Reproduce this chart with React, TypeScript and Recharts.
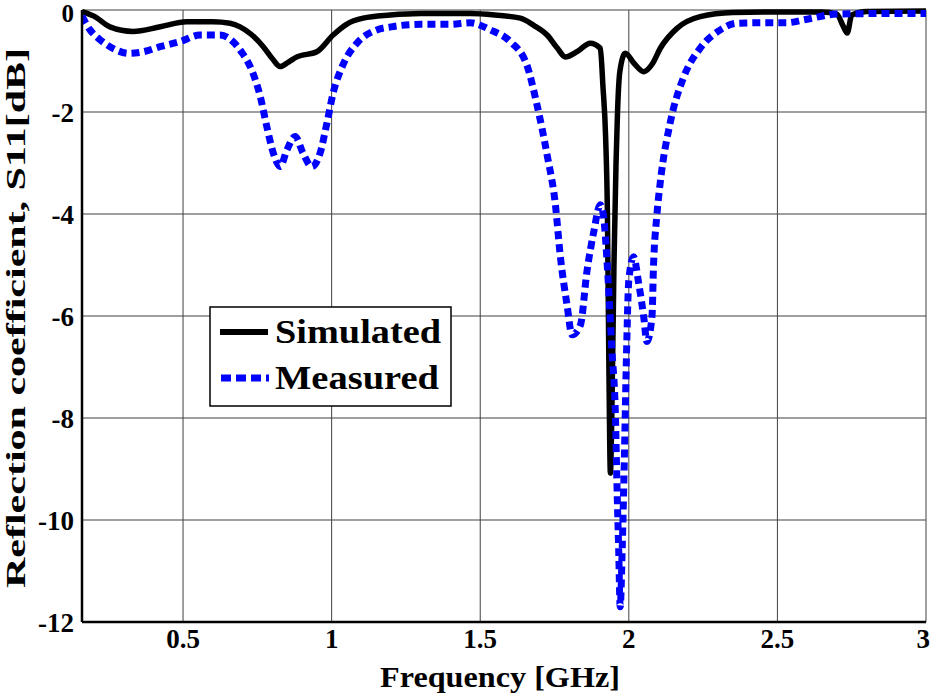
// S11 reflection coefficient: simulated vs measured
import { LineChart, Line, XAxis, YAxis, CartesianGrid, Label } from 'recharts';

const simFreq = [0.16, 0.2, 0.254, 0.332, 0.423, 0.512, 0.6, 0.658, 0.692, 0.73, 0.77, 0.8, 0.827, 0.855, 0.883, 0.95, 1.005, 1.05, 1.106, 1.197, 1.3, 1.466, 1.55, 1.635, 1.68, 1.725, 1.76, 1.786, 1.83, 1.87, 1.904, 1.913, 1.922, 1.928, 1.933, 1.938, 1.944, 1.95, 1.957, 1.962, 1.97, 1.988, 2.018, 2.05, 2.08, 2.106, 2.162, 2.24, 2.35, 2.5, 2.65, 2.7, 2.72, 2.735, 2.75, 2.8, 3.0];
const simS11 = [-0.03, -0.12, -0.33, -0.42, -0.33, -0.23, -0.23, -0.26, -0.33, -0.48, -0.72, -0.95, -1.11, -1.02, -0.92, -0.82, -0.49, -0.28, -0.16, -0.1, -0.07, -0.07, -0.1, -0.16, -0.3, -0.49, -0.75, -0.92, -0.8, -0.65, -0.75, -1.5, -2.5, -4, -7, -9.08, -7.5, -5, -3, -2, -1.2, -0.85, -1.05, -1.21, -1.05, -0.75, -0.36, -0.13, -0.05, -0.04, -0.04, -0.08, -0.3, -0.45, -0.1, -0.03, -0.02];

const measFreq = [0.16, 0.187, 0.22, 0.254, 0.32, 0.365, 0.423, 0.49, 0.557, 0.625, 0.668, 0.7, 0.726, 0.76, 0.782, 0.804, 0.827, 0.849, 0.877, 0.904, 0.933, 0.961, 0.984, 1.005, 1.04, 1.085, 1.152, 1.2, 1.3, 1.4, 1.466, 1.534, 1.601, 1.657, 1.691, 1.725, 1.753, 1.769, 1.792, 1.809, 1.837, 1.859, 1.882, 1.904, 1.915, 1.931, 1.943, 1.955, 1.96, 1.966, 1.971, 1.978, 1.985, 1.992, 2.0, 2.016, 2.033, 2.05, 2.061, 2.078, 2.083, 2.094, 2.106, 2.14, 2.183, 2.24, 2.308, 2.364, 2.45, 2.53, 2.6, 2.7, 2.85, 3.0];
const measS11 = [-0.12, -0.39, -0.58, -0.72, -0.85, -0.82, -0.72, -0.62, -0.49, -0.49, -0.62, -0.85, -1.11, -1.7, -2.29, -2.81, -3.07, -2.75, -2.48, -2.81, -3.07, -2.81, -2.22, -1.63, -1.05, -0.65, -0.39, -0.33, -0.28, -0.28, -0.25, -0.39, -0.62, -1.08, -1.86, -2.84, -3.82, -4.8, -5.78, -6.37, -6.18, -5.13, -4.35, -3.82, -4.05, -5.35, -6.67, -7.97, -9.28, -10.6, -11.7, -10.5, -8.8, -6.8, -5.3, -4.84, -5.35, -6.01, -6.5, -6.01, -5.03, -4.05, -3.37, -2.19, -1.34, -0.75, -0.39, -0.26, -0.25, -0.25, -0.18, -0.08, -0.07, -0.07];

const xTicks = [0.5, 1, 1.5, 2, 2.5, 3];
const yTicks = [0, -2, -4, -6, -8, -10, -12];

const simData = simFreq.map((f, i) => ({ f, s11: simS11[i] }));
const measData = measFreq.map((f, i) => ({ f, s11: measS11[i] }));

const FONT = '"Liberation Serif", "Times New Roman", serif';

function XTick({ x, y, payload }: any) {
  // last label sits on the right edge, keep it inside the picture
  const atEdge = x > 915;
  return (
    <text x={atEdge ? 930 : x} y={y + 26} textAnchor={atEdge ? 'end' : 'middle'} fontSize={27} fontWeight={700} fontFamily={FONT} fill="#000">
      {String(payload.value)}
    </text>
  );
}

function YTick({ x, y, payload }: any) {
  const atTop = y < 20;
  return (
    <text x={x - 8} y={atTop ? y + 12 : y + 10} textAnchor="end" fontSize={atTop ? 25 : 27} fontWeight={700} fontFamily={FONT} fill="#000">
      {String(payload.value)}
    </text>
  );
}

function LegendBox() {
  return (
    <svg width={243} height={101} style={{ position: 'absolute', left: 209, top: 306 }}>
      <rect x={1} y={1} width={241} height={99} fill="#fff" stroke="#000" strokeWidth={1.5} />
      <line x1={11} y1={26} x2={59} y2={26} stroke="#000" strokeWidth={6} />
      <text x={66} y={37} fontSize={33} fontWeight={700} fontFamily={FONT} textLength={166} lengthAdjust="spacingAndGlyphs">Simulated</text>
      <line x1={12} y1={72} x2={60} y2={72} stroke="#0000ff" strokeWidth={7} strokeDasharray="10 5" />
      <text x={66} y={83} fontSize={33} fontWeight={700} fontFamily={FONT} textLength={164} lengthAdjust="spacingAndGlyphs">Measured</text>
    </svg>
  );
}

export default function App() {
  return (
    <div style={{ position: 'absolute', left: 0, top: 0, width: 931, height: 693, background: '#fff' }}>
      <LineChart width={931} height={693} margin={{ top: 10, right: 5, bottom: 0, left: 0 }}>
        <CartesianGrid stroke="#404040" strokeWidth={1} horizontalValues={yTicks} verticalValues={xTicks} />
        <XAxis
          dataKey="f"
          type="number"
          domain={[0.16, 3]}
          ticks={xTicks}
          interval={0}
          allowDataOverflow
          height={71}
          tickLine={false}
          tickSize={0}
          tickMargin={0}
          axisLine={{ stroke: '#000', strokeWidth: 2.5 }}
          tick={<XTick />}
        >
          <Label
            content={() => (
              <text x={500} y={676} textAnchor="middle" dominantBaseline="central" fontSize={30} fontWeight={700} fontFamily={FONT} textLength={240} lengthAdjust="spacingAndGlyphs">
                Frequency [GHz]
              </text>
            )}
          />
        </XAxis>
        <YAxis
          type="number"
          domain={[-12, 0]}
          ticks={yTicks}
          interval={0}
          width={82}
          tickLine={false}
          tickSize={0}
          tickMargin={0}
          axisLine={{ stroke: '#000', strokeWidth: 2.5 }}
          tick={<YTick />}
        >
          <Label
            content={() => (
              <text x={15} y={318} transform="rotate(-90 15 318)" textAnchor="middle" dominantBaseline="central" fontSize={28} fontWeight={700} fontFamily={FONT} textLength={540} lengthAdjust="spacingAndGlyphs">
                Reflection coefficient, S11[dB]
              </text>
            )}
          />
        </YAxis>
        <Line data={simData} dataKey="s11" type="monotone" stroke="#000" strokeWidth={5.5} dot={false} isAnimationActive={false} />
        <Line data={measData} dataKey="s11" type="monotone" stroke="#0000ff" strokeWidth={7} strokeDasharray="8 5" dot={false} isAnimationActive={false} />
      </LineChart>
      <LegendBox />
    </div>
  );
}
